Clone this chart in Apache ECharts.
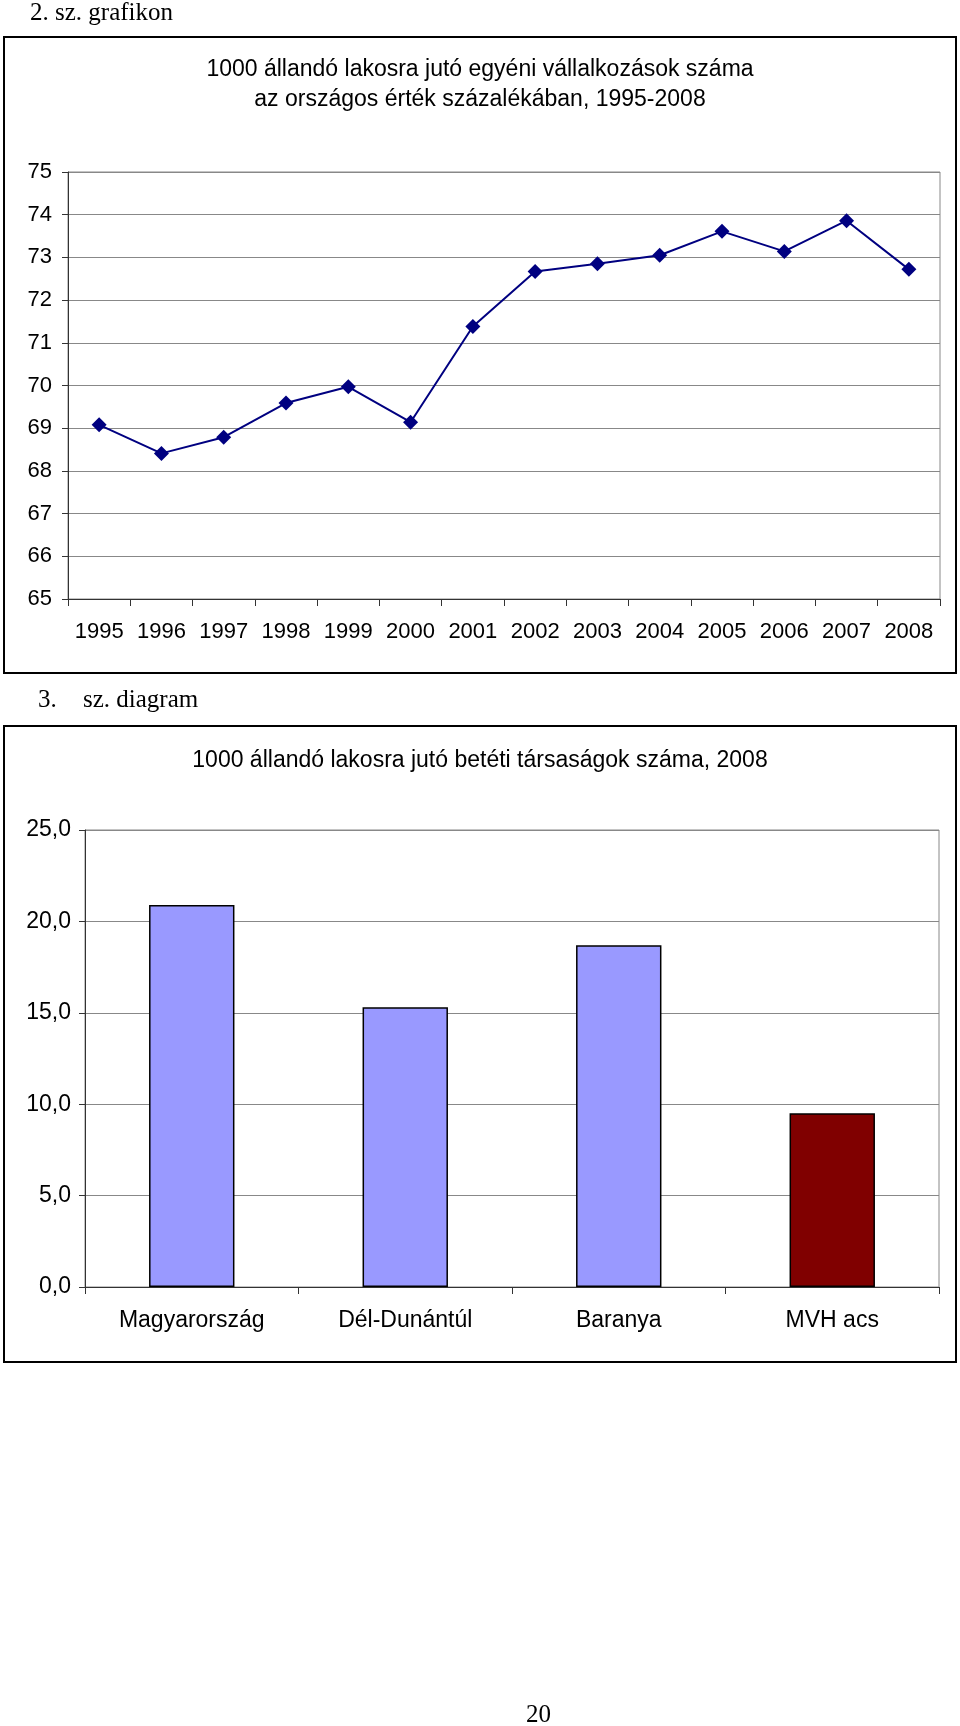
<!DOCTYPE html>
<html>
<head>
<meta charset="utf-8">
<script src="https://cdn.jsdelivr.net/npm/echarts@6/dist/echarts.min.js"></script>
<style>
html,body{margin:0;padding:0;background:#fff;}
#c{width:960px;height:1726px;}
</style>
</head>
<body>
<div id="c"></div>
<script>
// ---- Data ----
const years = ['1995','1996','1997','1998','1999','2000','2001','2002','2003','2004','2005','2006','2007','2008'];
const lineValues = [69.08, 68.41, 68.79, 69.59, 69.97, 69.14, 71.38, 72.67, 72.85, 73.05, 73.61, 73.14, 73.86, 72.72];
const regions = ['Magyarország', 'Dél-Dunántúl', 'Baranya', 'MVH acs'];
const barValues = [20.9, 15.3, 18.7, 9.5];
const barColors = ['#9999FF', '#9999FF', '#9999FF', '#800000'];
const lineTitle = '1000 állandó lakosra jutó egyéni vállalkozások száma\naz országos érték százalékában, 1995-2008';
const barTitle = '1000 állandó lakosra jutó betéti társaságok száma, 2008';

const sans = '"Liberation Sans", Arial, sans-serif';
const serif = '"Liberation Serif", "Times New Roman", serif';

const chart = echarts.init(document.getElementById('c'), null, {renderer: 'canvas'});

const option = {
  animation: false,
  backgroundColor: '#fff',
  title: [
    {
      text: lineTitle, left: 'center', top: 50,
      textStyle: {fontFamily: sans, fontSize: 23, fontWeight: 'normal', color: '#000', lineHeight: 30}
    },
    {
      text: barTitle, left: 'center', top: 744,
      textStyle: {fontFamily: sans, fontSize: 23, fontWeight: 'normal', color: '#000'}
    }
  ],
  graphic: [
    {type: 'rect', shape: {x: 4, y: 37, width: 952, height: 636}, style: {fill: 'none', stroke: '#000', lineWidth: 2}, z: 0},
    {type: 'rect', shape: {x: 4, y: 726, width: 952, height: 636}, style: {fill: 'none', stroke: '#000', lineWidth: 2}, z: 0},
    {type: 'text', left: 30, top: 1, style: {text: '2. sz. grafikon', font: '25px ' + serif, fill: '#000'}},
    {type: 'text', left: 38, top: 688, style: {text: '3.', font: '25px ' + serif, fill: '#000'}},
    {type: 'text', left: 83, top: 688, style: {text: 'sz. diagram', font: '25px ' + serif, fill: '#000'}},
    {type: 'text', left: 526, top: 1703, style: {text: '20', font: '25px ' + serif, fill: '#000'}}
  ],
  grid: [
    {left: 68, top: 172, width: 872, height: 427, show: true, borderColor: '#888', borderWidth: 1, containLabel: false},
    {left: 85, top: 830, width: 854, height: 457, show: true, borderColor: '#888', borderWidth: 1, containLabel: false}
  ],
  xAxis: [
    {
      type: 'category', gridIndex: 0, data: years, boundaryGap: true,
      axisLine: {lineStyle: {color: '#333', width: 1}},
      axisTick: {show: true, interval: 0, length: 7, lineStyle: {color: '#333'}},
      axisLabel: {interval: 0, margin: 22, fontFamily: sans, fontSize: 22, color: '#000'}
    },
    {
      type: 'category', gridIndex: 1, data: regions, boundaryGap: true,
      axisLine: {lineStyle: {color: '#333', width: 1}},
      axisTick: {show: true, interval: 0, length: 7, lineStyle: {color: '#333'}},
      axisLabel: {interval: 0, margin: 22, fontFamily: sans, fontSize: 23, color: '#000'}
    }
  ],
  yAxis: [
    {
      type: 'value', gridIndex: 0, min: 65, max: 75, interval: 1,
      axisLine: {show: true, lineStyle: {color: '#333'}},
      axisTick: {show: true, length: 6, lineStyle: {color: '#333'}},
      splitLine: {lineStyle: {color: '#888', width: 1}},
      axisLabel: {margin: 16, fontFamily: sans, fontSize: 22, color: '#000'}
    },
    {
      type: 'value', gridIndex: 1, min: 0, max: 25, interval: 5,
      axisLine: {show: true, lineStyle: {color: '#333'}},
      axisTick: {show: true, length: 6, lineStyle: {color: '#333'}},
      splitLine: {lineStyle: {color: '#888', width: 1}},
      axisLabel: {margin: 14, fontFamily: sans, fontSize: 23, color: '#000',
        formatter: v => v.toFixed(1).replace('.', ',')}
    }
  ],
  series: [
    {
      type: 'line', xAxisIndex: 0, yAxisIndex: 0, data: lineValues,
      symbol: 'diamond', symbolSize: 15,
      lineStyle: {color: '#000080', width: 2},
      itemStyle: {color: '#000080'}
    },
    {
      type: 'bar', xAxisIndex: 1, yAxisIndex: 1,
      data: barValues.map((v, i) => ({value: v, itemStyle: {color: barColors[i]}})),
      barWidth: '40%',
      itemStyle: {borderColor: '#000', borderWidth: 1.5}
    }
  ]
};
chart.setOption(option);
</script>
</body>
</html>
